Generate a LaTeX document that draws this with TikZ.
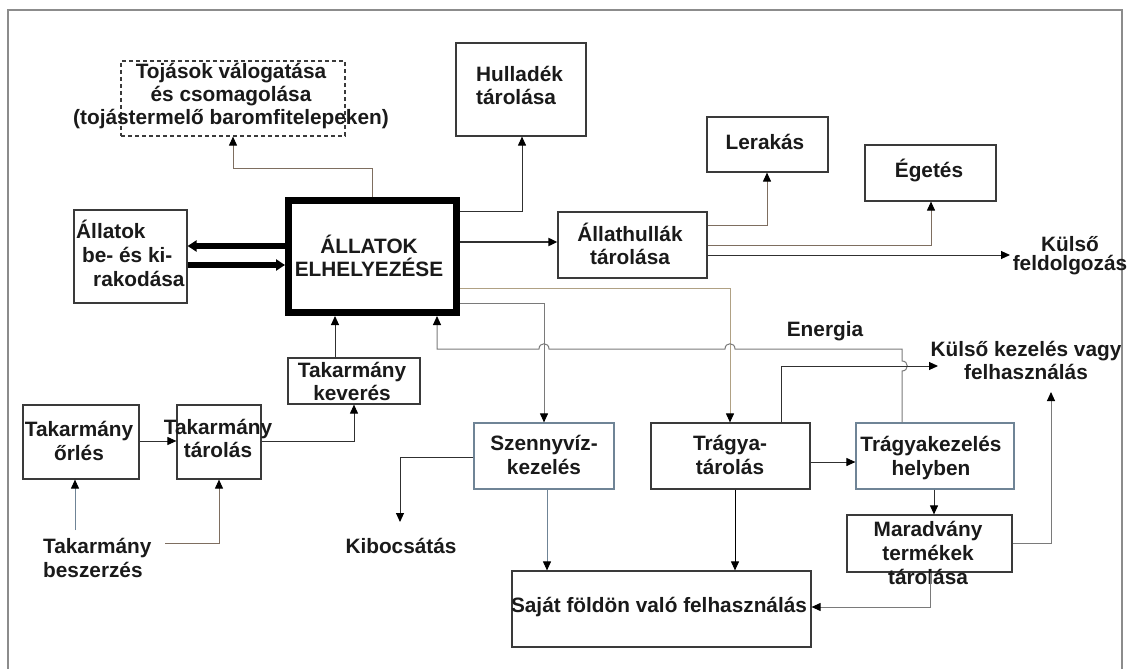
\documentclass[tikz,border=0pt]{standalone}
\usepackage{fontspec}
\setmainfont{Liberation Sans}
\usetikzlibrary{arrows.meta}
\definecolor{boxc}{HTML}{3A3A3A}
\definecolor{txtc}{HTML}{1A1A1A}
\definecolor{framec}{HTML}{8C8C8C}
\definecolor{tanc}{HTML}{B0A184}
\definecolor{brc}{HTML}{7E6E60}
\definecolor{grc}{HTML}{7A7A7A}
\definecolor{bgc}{HTML}{6F8496}
\definecolor{dkc}{HTML}{303030}
\begin{document}
\begin{tikzpicture}[x=1pt,y=-1pt,
  box/.style={draw=boxc, line width=1.2pt, inner sep=0pt},
  txt/.style={font=\bfseries\fontsize{20.8}{23}\selectfont, text=txtc, align=center, inner sep=0pt},
  txtb/.style={font=\bfseries\fontsize{20.8}{24}\selectfont, text=txtc, align=center, inner sep=0pt},
  arr/.style={-{Triangle[length=9pt,width=8pt,color=black]}},
  conn/.style={line width=1pt},
  thickarr/.style={line width=5.5pt, draw=black, -{Triangle[length=9pt,width=11pt]}}]
\useasboundingbox (0,0) rectangle (1127,669);
\fill[white] (0,0) rectangle (1127,669);
% frame
\draw[framec, line width=1.6pt] (8,669) -- (8,10) -- (1122,10) -- (1122,669);

% boxes
\node[box, dash pattern=on 4pt off 3pt, minimum width=224pt, minimum height=75pt] (toj) at (233,98.5) {};
\node[box, minimum width=130pt, minimum height=93pt] (hul) at (521,89.5) {};
\node[box, draw=black, line width=7pt, minimum width=168pt, minimum height=112pt] (all) at (372.5,256.5) {};
\node[box, minimum width=113pt, minimum height=93pt] (rak) at (130.5,256.5) {};
\node[box, minimum width=132pt, minimum height=46pt] (kev) at (354,381) {};
\node[box, minimum width=116pt, minimum height=74pt] (orl) at (81,442) {};
\node[box, minimum width=84pt, minimum height=74pt] (tar) at (219,442) {};
\node[box, draw=bgc, minimum width=140pt, minimum height=66pt] (szv) at (544,456) {};
\node[box, minimum width=159pt, minimum height=66pt] (trt) at (730.5,456) {};
\node[box, draw=bgc, minimum width=158pt, minimum height=66pt] (trk) at (935,456) {};
\node[box, minimum width=165pt, minimum height=57pt] (mar) at (929.5,543.5) {};
\node[box, minimum width=299pt, minimum height=76pt] (saj) at (661.5,609) {};
\node[box, minimum width=149pt, minimum height=66pt] (ath) at (632.5,245) {};
\node[box, minimum width=121pt, minimum height=55pt] (ler) at (767.5,144.5) {};
\node[box, minimum width=131pt, minimum height=56pt] (ege) at (930.5,173) {};

% texts
\node[txt] (tojt) at (231,96) {Tojások válogatása\\és csomagolása\\(tojástermelő baromfitelepeken)};
\node[txt, align=left, anchor=west] (hult) at (476,85.5) {Hulladék\\tárolása};
\node[txt] (allt) at (369,256) {ÁLLATOK\\ELHELYEZÉSE};
\node[txtb, align=left, anchor=west] (rakt) at (76,253) {Állatok\\\hspace*{6pt}be- és ki-\\\hspace*{17pt}rakodása};
\node[txt] (kevt) at (352,381.5) {Takarmány\\keverés};
\node[txtb] (orlt) at (79,441) {Takarmány\\őrlés};
\node[txt] (tart) at (218,438.5) {Takarmány\\tárolás};
\node[txtb, align=left, anchor=west] (beszt) at (43,558) {Takarmány\\beszerzés};
\node[txt] (kibt) at (401,546) {Kibocsátás};
\node[txtb] (szvt) at (544,455) {Szennyvíz-\\kezelés};
\node[txtb] (trtt) at (730,455) {Trágya-\\tárolás};
\node[txtb] (trkt) at (931,458) {Trágyakezelés\\helyben};
\node[txtb] (mart) at (928,553) {Maradvány\\termékek\\tárolása};
\node[txt] (sajt) at (659,607) {Saját földön való felhasználás};
\node[txt] (atht) at (630,244) {Állathullák\\tárolása};
\node[txt] (lert) at (765,142) {Lerakás};
\node[txt] (eget) at (929,170) {Égetés};
\node[font=\bfseries\fontsize{20.8}{19}\selectfont, text=txtc, align=center, inner sep=0pt] (kft) at (1070,256) {Külső\\feldolgozás};
\node[txt] (enet) at (825,331) {Energia};
\node[txt] (kkt) at (1026,360.5) {Külső kezelés vagy\\felhasználás};

% free ends
\coordinate (kfa) at (1010,255);
\coordinate (kka) at (938,366);
\coordinate (kkb) at (1051,392);
\coordinate (q0) at (75,530);
\coordinate (r0) at (165,543);
\coordinate (kiba) at (400,522);

% connectors
\draw[conn, brc, arr] (all.north -| 372,0) -- (372,168) -- (233,168) -- (toj.south -| 233,0);
\draw[conn, dkc, arr] (all.east |- 0,211) -- (522,211) -- (hul.south -| 522,0);
\draw[thickarr] (all.west |- 0,246) -- (rak.east |- 0,246);
\draw[thickarr] (rak.east |- 0,265) -- (all.west |- 0,265);
\draw[conn, dkc, arr] (kev.north -| 335,0) -- (all.south -| 335,0);
\draw[line width=1.8pt, dkc, arr] (all.east |- 0,242) -- (ath.west |- 0,242);
\draw[conn, brc, arr] (ath.east |- 0,225) -- (767,225) -- (ler.south -| 767,0);
\draw[conn, brc, arr] (ath.east |- 0,245) -- (931,245) -- (ege.south -| 931,0);
\draw[conn, dkc, arr] (ath.east |- 0,255) -- (kfa);
\draw[conn, tanc, arr] (all.east |- 0,288) -- (730,288) -- (trt.north -| 730,0);
\draw[conn, grc, arr] (all.east |- 0,303) -- (544,303) -- (szv.north -| 544,0);
\draw[conn, grc, arr] (trk.north -| 902,0) -- (902,371) .. controls (909,371) and (909,361) .. (902,361)
  -- (902,349) -- (735,349) .. controls (735,342) and (725,342) .. (725,349)
  -- (549,349) .. controls (549,342) and (539,342) .. (539,349)
  -- (437,349) -- (all.south -| 437,0);
\draw[conn, dkc, arr] (trt.north -| 781,0) -- (781,366) -- (kka);
\draw[conn, grc, arr] (mar.east |- 0,543) -- (1051,543) -- (kkb);
\draw[conn, dkc, arr] (orl.east |- 0,441) -- (tar.west |- 0,441);
\draw[conn, dkc, arr] (tar.east |- 0,441) -- (354,441) -- (kev.south -| 354,0);
\draw[conn, bgc, arr] (q0) -- (orl.south -| 75,0);
\draw[conn, brc, arr] (r0) -- (219,543) -- (tar.south -| 219,0);
\draw[conn, dkc, arr] (szv.west |- 0,457) -- (400,457) -- (kiba);
\draw[conn, bgc, arr] (szv.south -| 547,0) -- (saj.north -| 547,0);
\draw[conn, black, arr] (trt.south -| 735,0) -- (saj.north -| 735,0);
\draw[conn, dkc, arr] (trt.east |- 0,462) -- (trk.west |- 0,462);
\draw[conn, dkc, arr] (trk.south -| 934,0) -- (mar.north -| 934,0);
\draw[conn, grc, arr] (mar.south -| 930,0) -- (930,607) -- (saj.east |- 0,607);
\end{tikzpicture}
\end{document}
